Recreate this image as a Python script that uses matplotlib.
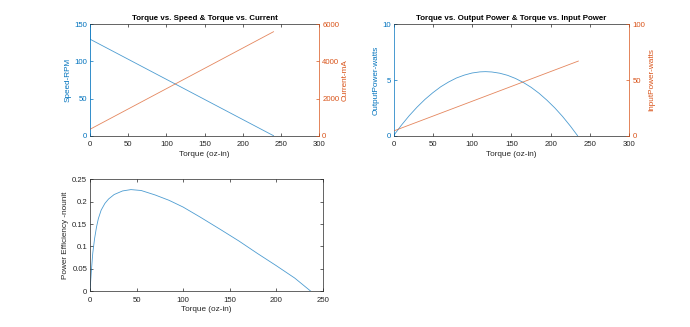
import matplotlib
matplotlib.use('Agg')
import matplotlib.pyplot as plt

plt.rcParams['font.family'] = ['Liberation Sans', 'DejaVu Sans']

BLUE = '#0072BD'
ORANGE = '#D95319'
GRAY = '#262626'

# torque vs speed / current
speed_torque = [0, 0, 0, 240]
speed_rpm = [0, 160, 130, 0]
current_torque = [0, 240]
current_ma = [345, 5600]

# torque vs output / input power
pout_torque = [0, 10, 20, 30, 40, 50, 60, 70, 80, 90, 100, 110, 117, 125, 135, 145,
               155, 165, 175, 185, 195, 205, 215, 225, 234]
pout_watts = [0, 0.94, 1.80, 2.57, 3.26, 3.86, 4.39, 4.82, 5.18, 5.44, 5.63, 5.73, 5.75,
              5.72, 5.61, 5.42, 5.14, 4.78, 4.34, 3.81, 3.19, 2.50, 1.72, 0.85, 0]
pin_torque = [0, 235]
pin_watts = [4.2, 67]

# efficiency
eff_torque = [0, 0.5, 1.5, 3, 5, 7, 9, 12, 16, 20, 26, 35, 44, 55, 70, 85, 100, 118,
              140, 160, 180, 200, 220, 237]
eff = [0, 0.015, 0.045, 0.085, 0.118, 0.143, 0.162, 0.181, 0.196, 0.206, 0.216, 0.224,
       0.227, 0.225, 0.215, 0.203, 0.188, 0.166, 0.138, 0.112, 0.084, 0.057, 0.029, 0]

TICK_FS = 5.6
LABEL_FS = 5.9
TITLE_FS = 5.7
LW = 0.6
ALPHA = 0.7


def style_axis(ax, left_color=GRAY):
    ax.tick_params(direction='in', length=2, width=0.5, labelsize=TICK_FS,
                   colors=GRAY, pad=2, top=True)
    ax.tick_params(axis='x', pad=4)
    for s in ax.spines.values():
        s.set_linewidth(0.5)
        s.set_color(GRAY)
    ax.spines['left'].set_color(left_color)
    ax.tick_params(axis='y', colors=left_color)


def yy_plot(pos, x1, y1, x2, y2, ylim1, yt1, ylim2, yt2, lab1, lab2, title):
    ax = fig.add_axes(pos)
    ax.plot(x1, y1, color=BLUE, lw=LW, alpha=ALPHA)
    ax.set_xlim(0, 300)
    ax.set_xticks(range(0, 301, 50))
    ax.set_ylim(*ylim1)
    ax.set_yticks(yt1)
    ax.set_xlabel('Torque (oz-in)', fontsize=LABEL_FS, color=GRAY, labelpad=2)
    ax.set_ylabel(lab1, fontsize=LABEL_FS, color=BLUE, labelpad=2)
    ax.set_title(title, fontsize=TITLE_FS, fontweight='bold', pad=3)
    style_axis(ax, BLUE)
    ax.spines['right'].set_visible(False)
    ax2 = ax.twinx()
    ax2.plot(x2, y2, color=ORANGE, lw=LW, alpha=ALPHA)
    ax2.set_ylim(*ylim2)
    ax2.set_yticks(yt2)
    ax2.set_ylabel(lab2, fontsize=LABEL_FS, color=ORANGE, labelpad=2)
    ax2.tick_params(axis='y', direction='in', length=2, width=0.5,
                    labelsize=TICK_FS, colors=ORANGE, pad=2)
    for s in ax2.spines.values():
        s.set_visible(False)
    ax2.spines['right'].set_visible(True)
    ax2.spines['right'].set_color(ORANGE)
    ax2.spines['right'].set_linewidth(0.5)
    return ax


fig = plt.figure(figsize=(6.9, 3.27), dpi=100)

yy_plot([0.1304, 0.585, 0.3325, 0.3407], speed_torque, speed_rpm, current_torque, current_ma,
        (0, 150), [0, 50, 100, 150], (0, 6000), [0, 2000, 4000, 6000],
        'Speed-RPM', 'Current-mA', 'Torque vs. Speed & Torque vs. Current')

yy_plot([0.5703, 0.585, 0.3420, 0.3407], pout_torque, pout_watts, pin_torque, pin_watts,
        (0, 10), [0, 5, 10], (0, 100), [0, 50, 100],
        'OutputPower-watts', 'InputPower-watts',
        'Torque vs. Output Power & Torque vs. Input Power')

ax3 = fig.add_axes([0.1304, 0.110, 0.3372, 0.3416])
ax3.plot(eff_torque, eff, color=BLUE, lw=LW, alpha=ALPHA)
ax3.set_xlim(0, 250)
ax3.set_ylim(0, 0.25)
ax3.set_xticks(range(0, 251, 50))
ax3.set_yticks([0, 0.05, 0.1, 0.15, 0.2, 0.25])
ax3.set_yticklabels(['0', '0.05', '0.1', '0.15', '0.2', '0.25'])
ax3.set_xlabel('Torque (oz-in)', fontsize=LABEL_FS, color=GRAY, labelpad=2)
ax3.set_ylabel('Power Efficiency -nounit', fontsize=LABEL_FS, color=GRAY, labelpad=2)
style_axis(ax3)
ax3.tick_params(right=True)

fig.savefig('out.png', dpi=100)
